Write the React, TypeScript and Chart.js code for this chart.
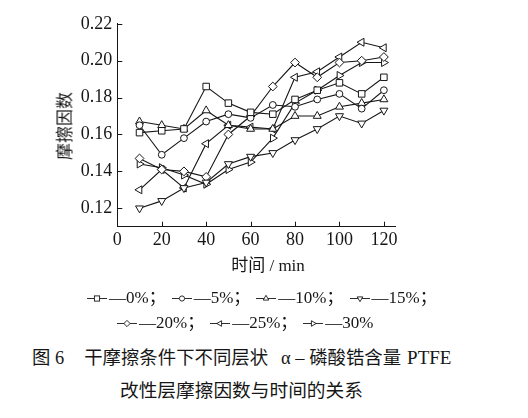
import React, { useEffect, useRef } from "react";
import { Chart, registerables } from "chart.js";

Chart.register(...registerables);

// ---- data ----
const times = [10, 20, 30, 40, 50, 60, 70, 80, 90, 100, 110, 120];
const s0 = [0.161, 0.162, 0.163, 0.186, 0.177, 0.172, 0.171, 0.179, 0.184, 0.188, 0.182, 0.191];
const s5 = [0.165, 0.149, 0.158, 0.167, 0.171, 0.169, 0.176, 0.175, 0.179, 0.182, 0.174, 0.184];
const s10 = [0.167, 0.165, 0.163, 0.173, 0.165, 0.163, 0.163, 0.17, 0.17, 0.175, 0.177, 0.179];
const s15 = [0.12, 0.124, 0.131, 0.134, 0.144, 0.148, 0.15, 0.157, 0.163, 0.17, 0.166, 0.173];
const s20 = [0.147, 0.141, 0.14, 0.137, 0.16, 0.17, 0.186, 0.199, 0.191, 0.199, 0.2, 0.202];
const s25 = [0.13, 0.141, 0.131, 0.155, 0.165, 0.164, 0.163, 0.191, 0.194, 0.202, 0.21, 0.207];
const s30 = [0.144, 0.142, 0.138, 0.133, 0.141, 0.145, 0.158, 0.177, 0.184, 0.192, 0.199, 0.199];
const seriesLabels = ["0%", "5%", "10%", "15%", "20%", "25%", "30%"];
const xTickValues = [0, 20, 40, 60, 80, 100, 120];
const yTickValues = [0.12, 0.14, 0.16, 0.18, 0.2, 0.22];
const xTitle = "时间 / min";
const yTitle = "摩擦因数";
const captionLine1a = "图 6";
const captionLine1b = "干摩擦条件下不同层状";
const captionLine1c = "α – 磷酸锆含量";
const captionLine1d = "PTFE";
const captionLine2 = "改性层摩擦因数与时间的关系";

const INK = "#161616";
const FONT = '"Liberation Serif", "Noto Sans CJK SC", serif';

type Marker = { style: string; rotation: number; radius: number };
const markers: Marker[] = [
  { style: "rect", rotation: 0, radius: 4.6 },
  { style: "circle", rotation: 0, radius: 3.4 },
  { style: "triangle", rotation: 0, radius: 4.6 },
  { style: "triangle", rotation: 180, radius: 4.6 },
  { style: "rectRot", rotation: 0, radius: 4.4 },
  { style: "triangle", rotation: 270, radius: 4.6 },
  { style: "triangle", rotation: 90, radius: 4.6 },
];
const allSeries = [s0, s5, s10, s15, s20, s25, s30];

const inwardTicks = {
  id: "inwardTicks",
  afterDraw(chart: any) {
    const { ctx, chartArea } = chart;
    const x = chart.scales.x;
    const y = chart.scales.y;
    ctx.save();
    ctx.strokeStyle = INK;
    ctx.lineWidth = 1;
    ctx.beginPath();
    x.ticks.forEach((t: any) => {
      const px = Math.round(x.getPixelForValue(t.value)) + 0.5;
      ctx.moveTo(px, chartArea.bottom);
      ctx.lineTo(px, chartArea.bottom - 5);
    });
    y.ticks.forEach((t: any) => {
      const py = Math.round(y.getPixelForValue(t.value)) + 0.5;
      ctx.moveTo(chartArea.left, py);
      ctx.lineTo(chartArea.left + 5, py);
    });
    ctx.stroke();
    ctx.restore();
  },
};

function LegendMark({ idx }: { idx: number }) {
  const cx = 11;
  const cy = 6;
  const r = 2.6;
  let shape: React.ReactNode = null;
  const common = { fill: "#fff", stroke: INK, strokeWidth: 0.9 };
  if (idx === 0) shape = <rect x={cx - r} y={cy - r} width={2 * r} height={2 * r} {...common} />;
  else if (idx === 1) shape = <circle cx={cx} cy={cy} r={r} {...common} />;
  else if (idx === 4) shape = <polygon points={`${cx},${cy - r - 0.5} ${cx + r + 0.5},${cy} ${cx},${cy + r + 0.5} ${cx - r - 0.5},${cy}`} {...common} />;
  else {
    const rot = markers[idx].rotation;
    const pts = [0, 120, 240]
      .map((a) => {
        const ang = ((a + rot - 90) * Math.PI) / 180;
        return `${cx + (r + 0.6) * Math.cos(ang)},${cy + (r + 0.6) * Math.sin(ang)}`;
      })
      .join(" ");
    shape = <polygon points={pts} {...common} />;
  }
  return (
    <svg width={22} height={12} style={{ verticalAlign: "middle", marginRight: 1 }}>
      <line x1={1} y1={cy} x2={21} y2={cy} stroke={INK} strokeWidth={0.9} />
      {shape}
    </svg>
  );
}

function LegendItem({ idx, last }: { idx: number; last?: boolean }) {
  return (
    <span style={{ marginRight: last ? 0 : 5 }}>
      <LegendMark idx={idx} />
      {"—" + seriesLabels[idx] + (last ? "" : "；")}
    </span>
  );
}

export default function App() {
  const ref = useRef<HTMLCanvasElement | null>(null);

  useEffect(() => {
    if (!ref.current) return;
    const datasets = allSeries.map((s, i) => ({
      label: seriesLabels[i],
      data: s.map((v, j) => ({ x: times[j], y: v })),
      borderColor: INK,
      borderWidth: 1.1,
      backgroundColor: "#fff",
      pointStyle: markers[i].style as any,
      pointRotation: markers[i].rotation,
      pointRadius: markers[i].radius,
      pointBorderWidth: 1,
      pointBorderColor: INK,
      pointBackgroundColor: "#fff",
      tension: 0,
    }));
    const chart = new Chart(ref.current, {
      type: "line",
      data: { datasets },
      options: {
        animation: false,
        responsive: false,
        layout: { padding: { top: 12, right: 15, left: 0, bottom: 0 } },
        plugins: { legend: { display: false }, tooltip: { enabled: false }, title: { display: false } },
        scales: {
          x: {
            type: "linear",
            min: 0,
            max: 125,
            afterBuildTicks: (scale: any) => {
              scale.ticks = xTickValues.map((v) => ({ value: v }));
            },
            afterFit: (scale: any) => {
              scale.height = 41.3;
            },
            grid: { display: false, drawTicks: false },
            border: { display: true, color: INK, width: 1 },
            ticks: {
              color: INK,
              padding: 3,
              maxRotation: 0,
              font: { family: FONT, size: 18 },
              callback: (v: any) => String(v),
            },
          },
          y: {
            type: "linear",
            min: 0.11,
            max: 0.22,
            afterBuildTicks: (scale: any) => {
              scale.ticks = yTickValues.map((v) => ({ value: v }));
            },
            afterFit: (scale: any) => {
              scale.width = 67.3;
            },
            grid: { display: false, drawTicks: false },
            border: { display: true, color: INK, width: 1 },
            ticks: {
              color: INK,
              padding: 5,
              font: { family: FONT, size: 18 },
              callback: (v: any) => Number(v).toFixed(2),
            },
          },
        },
      },
      plugins: [inwardTicks],
    });
    return () => chart.destroy();
  }, []);

  const textStyle: React.CSSProperties = {
    position: "absolute",
    fontFamily: FONT,
    color: INK,
    whiteSpace: "nowrap",
    lineHeight: 1,
  };

  return (
    <div style={{ position: "relative", width: 512, height: 402, fontFamily: FONT, color: INK }}>
      <canvas
        ref={ref}
        width={360}
        height={260}
        style={{ position: "absolute", left: 42, top: 0, width: 360, height: 260 }}
      />
      <div
        style={{
          ...textStyle,
          fontSize: 17,
          left: 57,
          top: 118,
          transform: "translate(-50%, -50%) rotate(-90deg)",
        }}
      >
        {yTitle}
      </div>
      <div style={{ ...textStyle, fontSize: 17, left: 260, top: 257, transform: "translate(-50%, -50%)" }}>
        {xTitle}
      </div>
      <div style={{ ...textStyle, fontSize: 17, left: 78, top: 289, transform: "translateY(-50%)" }}>
        <LegendItem idx={0} />
        <LegendItem idx={1} />
        <LegendItem idx={2} />
        <LegendItem idx={3} />
      </div>
      <div style={{ ...textStyle, fontSize: 17, left: 108, top: 314, transform: "translateY(-50%)" }}>
        <LegendItem idx={4} />
        <LegendItem idx={5} />
        <LegendItem idx={6} last />
      </div>
      <div style={{ ...textStyle, fontSize: 18.4, left: 24, top: 350, transform: "translateY(-50%)" }}>
        <span>{captionLine1a}</span>
        <span style={{ marginLeft: 20 }}>{captionLine1b}</span>
        <span style={{ marginLeft: 13 }}>{captionLine1c}</span>
        <span style={{ marginLeft: 6, fontSize: 19 }}>{captionLine1d}</span>
      </div>
      <div style={{ ...textStyle, fontSize: 18.7, left: 112, top: 383, transform: "translateY(-50%)" }}>
        {captionLine2}
      </div>
    </div>
  );
}
